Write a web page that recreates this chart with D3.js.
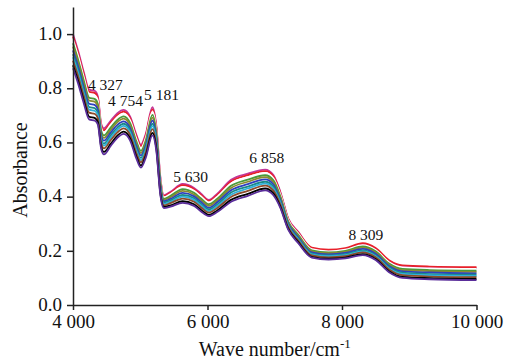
<!DOCTYPE html>
<html>
<head>
<meta charset="utf-8">
<script src="https://cdn.jsdelivr.net/npm/d3@7"></script>
<style>
  body { margin: 0; background: #fff; }
  svg { display: block; }
  text { font-family: "Liberation Serif", "Times New Roman", serif; fill: #111; }
</style>
</head>
<body>
<div id="chart"></div>
<script>
// wave numbers (cm-1) the spectra were read at
var wave = [4000, 4080, 4160, 4240, 4327, 4370, 4420, 4460, 4560, 4660, 4754, 4850, 4940, 5010, 5080, 5181, 5240, 5300, 5350, 5450,
  5630, 5800, 5900, 6020, 6150, 6350, 6600, 6858, 6980, 7080, 7200, 7350, 7550, 7800, 8050, 8309, 8500, 8700, 8900, 9300, 10000];

// absorbance of each sample spectrum
var sMagenta = [1.000,.935,.860,.795,.790,.770,.668,.652,.680,.708,.720,.695,.630,.592,.630,.730,.660,.470,.405,.418,
  .447,.432,.412,.388,.412,.462,.485,.500,.480,.420,.320,.270,.209,.201,.207,.225,.207,.162,.143,.139,.136];
var sRed = [.991,.926,.852,.787,.782,.762,.661,.645,.673,.701,.714,.689,.624,.586,.624,.722,.653,.465,.402,.414,
  .442,.427,.407,.384,.407,.456,.479,.494,.475,.416,.317,.267,.212,.204,.210,.228,.210,.165,.146,.142,.140];
var sWhite = [.980,.916,.842,.778,.773,.754,.654,.637,.666,.694,.706,.681,.616,.579,.616,.714,.646,.460,.398,.410,
  .436,.422,.402,.379,.401,.449,.472,.488,.468,.411,.314,.264,.206,.198,.204,.221,.203,.158,.139,.135,.133];
var sGreen = [.966,.902,.829,.765,.760,.742,.643,.626,.655,.683,.696,.671,.606,.569,.606,.702,.635,.452,.392,.403,
  .428,.414,.394,.372,.393,.440,.463,.479,.460,.404,.309,.259,.202,.194,.200,.216,.198,.153,.133,.129,.127];
var sOlive = [.954,.891,.818,.755,.750,.732,.634,.617,.646,.675,.688,.663,.598,.561,.598,.692,.626,.446,.388,.398,
  .421,.408,.388,.366,.387,.432,.455,.472,.453,.398,.305,.255,.198,.191,.196,.212,.194,.149,.129,.125,.122];
var sBlue = [.940,.878,.805,.743,.738,.721,.624,.607,.636,.665,.678,.653,.588,.552,.588,.681,.616,.439,.383,.392,
  .414,.401,.381,.359,.380,.424,.446,.464,.445,.391,.300,.250,.194,.187,.192,.207,.189,.144,.124,.120,.117];
var sTeal = [.926,.865,.793,.731,.726,.709,.614,.596,.626,.655,.669,.644,.579,.543,.579,.669,.606,.432,.378,.386,
  .406,.394,.374,.353,.372,.415,.437,.455,.437,.385,.296,.246,.190,.183,.188,.202,.184,.139,.119,.114,.112];
var sCyan = [.915,.854,.782,.721,.716,.700,.605,.588,.617,.647,.661,.636,.571,.535,.571,.660,.597,.426,.373,.381,
  .400,.388,.368,.347,.366,.407,.430,.448,.430,.379,.292,.242,.187,.180,.184,.198,.180,.135,.115,.110,.107];
var sBrown = [.902,.842,.771,.710,.705,.689,.596,.578,.608,.637,.652,.627,.562,.527,.562,.649,.588,.419,.368,.376,
  .393,.381,.361,.341,.359,.399,.421,.441,.422,.373,.288,.238,.183,.176,.180,.194,.176,.131,.110,.105,.103];
var sBlack = [.885,.825,.755,.695,.690,.675,.583,.565,.595,.625,.640,.615,.550,.515,.550,.635,.575,.410,.362,.368,
  .383,.372,.352,.333,.350,.388,.410,.430,.412,.365,.282,.232,.178,.171,.175,.188,.170,.125,.104,.099,.096];
var sPurple = [.874,.814,.745,.685,.680,.666,.575,.556,.587,.617,.632,.607,.542,.507,.542,.626,.567,.404,.358,.363,
  .377,.366,.346,.328,.344,.381,.403,.423,.405,.360,.278,.228,.175,.168,.172,.184,.166,.121,.100,.095,.092];

var allSeries = [sMagenta, sRed, sWhite, sGreen, sOlive, sBlue, sTeal, sCyan, sBrown, sBlack, sPurple];
var seriesColors = ["#c2379b", "#e8202a", "#ffffff", "#4a9a3a", "#8a8a30", "#2e3fbf", "#1a8a8a", "#30b0d8", "#8b4a2b", "#000000", "#5a2d9a"];

// tick labels
var xTicks = [4000, 6000, 8000, 10000];
var xTickLabels = ["4 000", "6 000", "8 000", "10 000"];
var yTicks = [0, 0.2, 0.4, 0.6, 0.8, 1.0];

// peak annotations
var peakLabels = ["4 327", "4 754", "5 181", "5 630", "6 858", "8 309"];
var peakLabelWave = [4223, 4521, 5057, 5489, 6621, 8095];
var peakLabelAbs = [0.795, 0.735, 0.755, 0.454, 0.524, 0.240];

var W = 510, H = 360;

var svg = d3.select("#chart").append("svg")
  .attr("width", W)
  .attr("height", H)
  .attr("font-family", "'Liberation Serif', 'Times New Roman', serif");

var x = d3.scaleLinear().domain([4000, 10000]).range([73, 476.5]);
var y = d3.scaleLinear().domain([0, 1.1]).range([305, 7]);

var line = d3.line()
  .x(function(d, i) { return x(wave[i]); })
  .y(function(d) { return y(d); })
  .curve(d3.curveMonotoneX);

// spectra
svg.append("g").selectAll("path")
  .data(allSeries)
  .enter().append("path")
  .attr("d", function(d) { return line(d); })
  .attr("fill", "none")
  .attr("stroke", function(d, i) { return seriesColors[i]; })
  .attr("stroke-width", 1.8)
  .attr("stroke-linejoin", "round");

// x axis
var xAxis = svg.append("g")
  .attr("transform", "translate(0,305)")
  .call(d3.axisBottom(x)
    .tickValues(xTicks)
    .tickFormat(function(d, i) { return xTickLabels[i]; })
    .tickSize(5)
    .tickPadding(5)
    .tickSizeOuter(0));

// y axis
var yAxis = svg.append("g")
  .attr("transform", "translate(73,0)")
  .call(d3.axisLeft(y)
    .tickValues(yTicks)
    .tickFormat(d3.format(".1f"))
    .tickSize(6)
    .tickPadding(5)
    .tickSizeOuter(0));

[xAxis, yAxis].forEach(function(a) {
  a.attr("font-family", null);
  a.select(".domain").attr("stroke", "#222").attr("stroke-width", 1.5);
  a.selectAll(".tick line").attr("stroke", "#222").attr("stroke-width", 1.5);
  a.selectAll(".tick text")
    .style("font-size", "19px")
    .attr("fill", "#111");
});
yAxis.selectAll(".tick text").attr("dy", "0.28em");

// peak labels
svg.append("g").selectAll("text")
  .data(peakLabels)
  .enter().append("text")
  .attr("x", function(d, i) { return x(peakLabelWave[i]); })
  .attr("y", function(d, i) { return y(peakLabelAbs[i]); })
  .style("font-size", "15.5px")
  .text(function(d) { return d; });

// axis titles
svg.append("text")
  .attr("transform", "translate(27,170)rotate(-90)")
  .attr("text-anchor", "middle")
  .style("font-size", "20px")
  .text("Absorbance");

var xt = svg.append("text")
  .attr("x", 274.75)
  .attr("y", 356)
  .attr("text-anchor", "middle")
  .style("font-size", "20px");
xt.append("tspan").text("Wave number/cm");
xt.append("tspan").attr("dy", -8).style("font-size", "13px").text("-1");
</script>
</body>
</html>
